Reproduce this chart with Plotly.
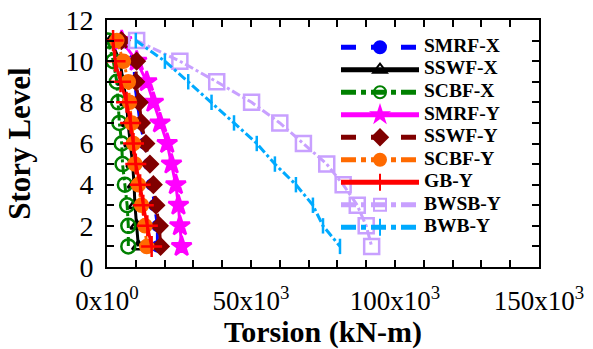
import plotly.graph_objects as go

stories = [11, 10, 9, 8, 7, 6, 5, 4, 3, 2, 1]

smrf_x = [4500, 9500, 9500, 10500, 11500, 13000, 14500, 15500, 16500, 17500, 17500]
sswf_x = [1300, 4500, 5600, 6800, 7300, 8200, 8900, 9400, 9700, 10300, 10900]
scbf_x = [300, 2200, 3400, 3900, 4300, 5100, 5400, 6200, 7000, 7400, 7400]
smrf_y = [5100, 10300, 13800, 16100, 18400, 20900, 22400, 23900, 24800, 25300, 25900]
sswf_y = [5000, 10300, 10000, 11200, 12000, 13500, 14900, 16100, 17000, 18200, 18600]
scbf_y = [3400, 5700, 7400, 7800, 8600, 9200, 9700, 10900, 12000, 13200, 13800]
gb_y = [2100, 2800, 4700, 6800, 8200, 9200, 10000, 11500, 12600, 14000, 15500]
bwsb_y = [10300, 25300, 38100, 50200, 60000, 68200, 76300, 82000, 86900, 90000, 91900]
bwb_y = [10000, 20100, 28200, 36300, 44100, 52000, 58300, 65600, 71500, 75000, 80900]

names = ["SMRF-X", "SSWF-X", "SCBF-X", "SMRF-Y", "SSWF-Y", "SCBF-Y", "GB-Y", "BWSB-Y", "BWB-Y"]

x_tickvals = [0, 50000, 100000, 150000]
x_ticktext = ["0x10<sup>0</sup>", "50x10<sup>3</sup>", "100x10<sup>3</sup>", "150x10<sup>3</sup>"]
y_tickvals = [0, 2, 4, 6, 8, 10, 12]

styles = [
    (smrf_x, "#0000ff", "dash", "circle", 10),
    (sswf_x, "#000000", "solid", "triangle-up-open", 11),
    (scbf_x, "#008000", "dashdot", "circle-open", 14),
    (smrf_y, "#ff00ff", "solid", "star", 15),
    (sswf_y, "#800000", "dash", "diamond", 12),
    (scbf_y, "#ff6a00", "dashdot", "circle", 13),
    (gb_y, "#ff0000", "solid", "cross-thin-open", 15),
    (bwsb_y, "#c8a0ff", "dashdot", "square-open", 15),
    (bwb_y, "#00aaff", "dashdot", "line-ns-open", 11),
]

fig = go.Figure()
for (xs, color, dash, sym, size), nm in zip(styles, names):
    fig.add_trace(go.Scatter(
        x=xs, y=stories, name="", legendgroup=nm, mode="lines+markers",
        line=dict(color=color, width=3, dash=dash),
        marker=dict(symbol=sym, size=size, color=color,
                    line=dict(color=color, width=2.5)),
        hovertemplate=nm + ": %{x}<extra></extra>",
    ))

font_family = "Liberation Serif, Times New Roman, serif"

# legend labels (real text) next to the legend samples
row_top_px = 45.5
row_gap_px = 22.5
plot_top, plot_h, plot_l, plot_w = 20, 247, 107, 432
for i, nm in enumerate(names):
    ypx = row_top_px + i * row_gap_px
    fig.add_annotation(
        xref="paper", yref="paper",
        x=(422 - plot_l) / plot_w, y=(plot_top + plot_h - ypx) / plot_h,
        xanchor="left", yanchor="middle", showarrow=False,
        text="<b>" + nm + "</b>",
        font=dict(size=19.5, family=font_family, color="black"),
    )

axis_common = dict(
    showgrid=False, zeroline=False, showline=True, linecolor="black",
    linewidth=2, mirror="ticks", ticks="inside", ticklen=7, tickwidth=1.5,
    tickcolor="black", automargin=False,
)

fig.update_layout(
    width=593, height=349,
    margin=dict(l=107, r=54, t=20, b=82),
    plot_bgcolor="white", paper_bgcolor="white",
    font=dict(family=font_family, color="black", size=27),
    xaxis=dict(
        range=[0, 150000], tickmode="array", tickvals=x_tickvals, ticktext=x_ticktext,
        minor=dict(dtick=10000, ticks="inside", ticklen=7, tickcolor="black", tickwidth=1.5),
        title=dict(text="<b>Torsion (kN-m)</b>", font=dict(size=30), standoff=5),
        tickfont=dict(size=27), ticklabelstandoff=9,
        **axis_common,
    ),
    yaxis=dict(
        range=[0, 12], tickmode="array", tickvals=y_tickvals,
        minor=dict(dtick=1, ticks="inside", ticklen=7, tickcolor="black", tickwidth=1.5),
        title=dict(text="<b>Story Level</b>", font=dict(size=31), standoff=26),
        tickfont=dict(size=28), ticklabelstandoff=6,
        **axis_common,
    ),
    legend=dict(
        x=(336 - plot_l) / plot_w, y=(plot_top + plot_h - 31) / plot_h,
        xanchor="left", yanchor="top",
        bgcolor="rgba(0,0,0,0)", borderwidth=0,
        font=dict(size=15, family=font_family),
        itemwidth=78, tracegroupgap=0, itemsizing="constant",
    ),
    showlegend=True,
)

fig.write_html("out.html")
